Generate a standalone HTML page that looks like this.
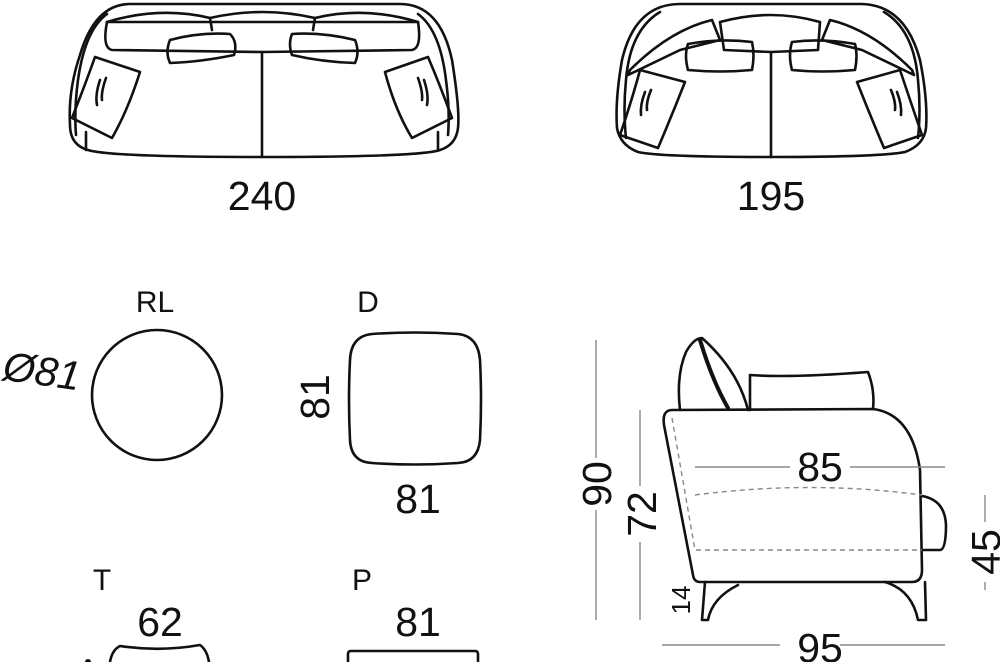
<!DOCTYPE html>
<html><head><meta charset="utf-8"><style>
html,body{margin:0;padding:0;background:#fff;width:1000px;height:662px;overflow:hidden}
svg{display:block}
text{font-family:"Liberation Sans","DejaVu Sans",sans-serif;fill:#111}
</style></head><body>
<svg width="1000" height="662" viewBox="0 0 1000 662" xmlns="http://www.w3.org/2000/svg">
<g fill="none" stroke="#111" stroke-width="2.6" stroke-linejoin="round" stroke-linecap="round">
<!-- Sofa 240 -->
<path d="M130,4 L400,4 Q440,4 452,60 Q460,110 458,128 Q456,145 440,150 Q420,157 262,157 Q110,157 88,150 Q70,145 70,125 Q68,90 80,55 Q95,4 130,4 Z"/>
<path d="M107,14 Q85,30 78,80 Q74,110 76,135"/>
<path d="M418,14 Q440,30 446,80 Q450,110 448,135"/>
<path d="M107,22 Q160,6 210,18 Q262,6 315,18 Q365,6 418,22"/>
<path d="M107,22 L418,22"/>
<path d="M107,22 Q102,48 112,50 L262,52 L412,50 Q422,48 418,22"/>
<path d="M210,18 L212,30 M315,18 L313,30"/>
<path d="M262,52 L262,157"/>
<path d="M170,40 Q200,32 230,34 Q238,42 234,55 Q200,62 170,63 Q165,52 170,40 Z"/>
<path d="M292,34 Q322,32 355,40 Q360,52 355,63 Q322,62 292,55 Q288,44 292,34 Z"/>
<path d="M95,57 L140,72 Q128,110 112,138 L72,118 Q85,85 95,57 Z"/>
<path d="M100,80 Q95,95 97,105 M106,78 Q101,92 102,100"/>
<path d="M428,57 L385,72 Q395,110 412,138 L452,118 Q440,85 428,57 Z"/>
<path d="M424,80 Q429,95 427,105 M418,78 Q423,92 422,100"/>
<path d="M86,132 L86,150 M438,132 L438,150"/>
<!-- Sofa 195 -->
<path d="M680,4 L860,4 Q905,4 920,60 Q928,100 926,128 Q924,145 905,152 Q880,157 771,157 Q660,157 638,152 Q620,145 617,128 Q615,100 622,60 Q635,4 680,4 Z"/>
<path d="M660,12 Q630,30 626,80 Q623,110 626,138"/>
<path d="M884,12 Q914,30 918,80 Q921,110 918,138"/>
<path d="M720,22 Q771,8 820,22 L818,50 L771,52 L724,50 Z"/>
<path d="M771,52 L771,157"/>
<path d="M712,20 Q670,30 630,70 L628,75 L680,50 L720,40 Z"/>
<path d="M830,20 Q872,30 912,70 L914,75 L862,50 L822,40 Z"/>
<path d="M688,44 Q720,38 752,42 Q755,55 752,70 Q720,73 688,70 Q684,55 688,44 Z"/>
<path d="M792,42 Q822,38 855,44 Q858,55 855,70 Q822,73 792,70 Q788,55 792,42 Z"/>
<path d="M640,70 L685,82 Q672,115 658,148 L620,135 Q632,100 640,70 Z"/>
<path d="M645,92 Q640,105 641,115 M651,90 Q646,102 647,110"/>
<path d="M900,70 L857,82 Q870,115 884,148 L922,135 Q910,100 900,70 Z"/>
<path d="M897,92 Q902,105 901,115 M891,90 Q896,102 895,110"/>
<!-- circle & square -->
<circle cx="157" cy="395" r="65"/>
<path d="M372,334 Q415,331 458,334 Q478,336 480,360 Q482,400 480,440 Q478,462 458,463 Q415,466 372,463 Q351,462 350,440 Q348,400 350,360 Q351,336 372,334 Z"/>
<!-- T and P partial -->
<path d="M110,662 Q112,650 120,646 Q160,652 200,645 Q207,650 209,662"/>
<path d="M348,662 L348,654 Q348,651 351,651 L475,651 Q478,651 478,654 L478,662"/>
<circle cx="88" cy="662" r="3" fill="#111" stroke="none"/>
<!-- side view -->
<path d="M672,410 L873,409 Q912,414 920,470 L922,570 Q922,582 912,582 L700,582 Q694,582 693,575 L664,425 Q662,410 672,410 Z"/>
<path d="M680,410 Q676,375 686,352 Q694,338 702,338 Q738,370 748,410"/>
<path d="M700,340 Q712,380 728,408" stroke-width="4"/>
<path d="M750,410 L750,375 Q790,378 868,372 Q875,390 873,409"/>
<path d="M922,496 Q945,500 946,525 Q946,550 940,550 L922,550"/>
<path d="M705,582 L702,620 L708,620 Q712,598 738,585"/>
<path d="M885,582 Q912,590 918,620 L926,620 L925,582"/>
</g>
<g fill="none" stroke="#888" stroke-width="1.4">
<path d="M672,418 L695,550 L922,550" stroke-dasharray="5,4"/>
<path d="M695,495 Q810,480 922,495" stroke-dasharray="5,4"/>
<path d="M596,340 L596,458 M596,510 L596,620"/>
<path d="M640,410 L640,486 M640,542 L640,620"/>
<path d="M695,467 L790,467 M850,467 L945,467"/>
<path d="M985,495 L985,522 M985,582 L985,590"/>
<path d="M662,645 L780,645 M840,645 L945,645"/>
</g>
<g font-size="41" text-anchor="middle">
<text x="262" y="210">240</text>
<text x="771" y="210">195</text>
<text x="418" y="513">81</text>
<text x="160" y="636">62</text>
<text x="418" y="636">81</text>
<text x="820" y="481">85</text>
<text x="820" y="662">95</text>
<text transform="translate(329,397) rotate(-90)">81</text>
<text transform="translate(611,484) rotate(-90)">90</text>
<text transform="translate(656,514) rotate(-90)">72</text>
<text transform="translate(1000,552) rotate(-90)">45</text>
<text transform="translate(40,385) rotate(8)" font-style="italic">Ø81</text>
</g>
<g font-size="30" text-anchor="middle">
<text x="155" y="312">RL</text>
<text x="368" y="312">D</text>
<text x="102" y="590">T</text>
<text x="362" y="590">P</text>
<text transform="translate(690,600) rotate(-90)" font-size="26">14</text>
</g>
</svg>
</body></html>
